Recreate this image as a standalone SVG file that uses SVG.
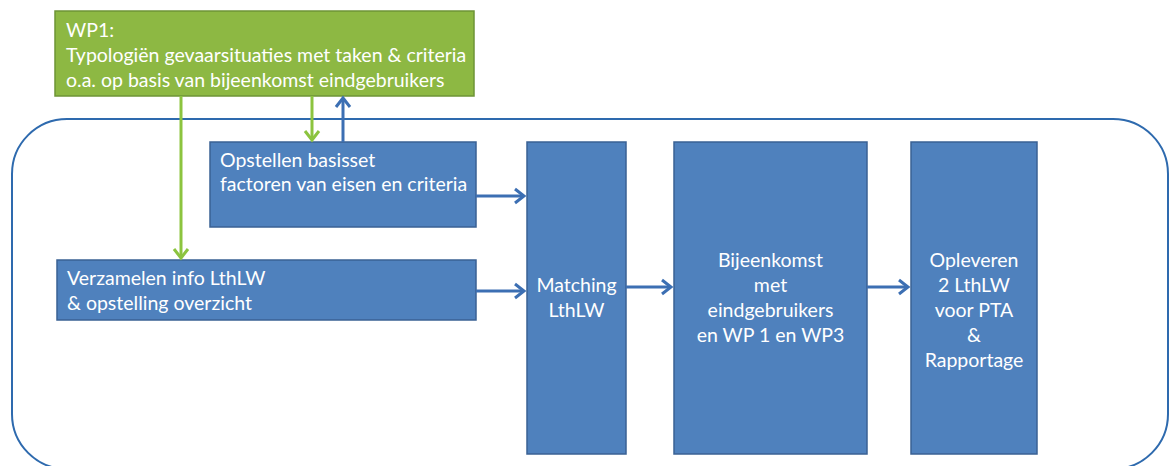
<svg xmlns="http://www.w3.org/2000/svg" width="1170" height="466" viewBox="0 0 1170 466">
<style>
  .box { fill: #4F81BD; stroke: #3A6194; stroke-width: 1.5; }
  .gbox { fill: #8DB843; stroke: #6E9436; stroke-width: 1.5; }
  text { font-family: Lato, "Open Sans", sans-serif; font-size: 19.5px; fill: #FFFFFF; }
  .c { text-anchor: middle; }
  .blue { stroke: #3C6FB3; stroke-width: 3; fill: none; }
  .green { stroke: #8CC43F; stroke-width: 3; fill: none; }
</style>
<defs>
  <marker id="ab" markerUnits="userSpaceOnUse" markerWidth="14" markerHeight="18" refX="11" refY="9" orient="auto">
    <path d="M2,2 L11,9 L2,16" fill="none" stroke="#3C6FB3" stroke-width="3"/>
  </marker>
  <marker id="ag" markerUnits="userSpaceOnUse" markerWidth="14" markerHeight="18" refX="11" refY="9" orient="auto">
    <path d="M2,2 L11,9 L2,16" fill="none" stroke="#8CC43F" stroke-width="3"/>
  </marker>
</defs>
<rect width="1170" height="466" fill="#FFFFFF"/>
<g id="container">
  <rect x="12" y="119" width="1156" height="350" rx="55" ry="55" fill="none" stroke="#2E6AAE" stroke-width="2"/>
</g>
<g id="wp1">
  <rect class="gbox" x="55" y="11" width="419" height="85"/>
  <text x="66" y="37">WP1:</text>
  <text x="66" y="62">Typologiën gevaarsituaties met taken &amp; criteria</text>
  <text x="66" y="87">o.a. op basis van bijeenkomst eindgebruikers</text>
</g>
<g id="opstellen">
  <rect class="box" x="210" y="142" width="266" height="85"/>
  <text x="220" y="167">Opstellen basisset</text>
  <text x="220" y="191">factoren van eisen en criteria</text>
</g>
<g id="verzamelen">
  <rect class="box" x="57" y="260" width="419" height="60"/>
  <text x="67" y="285">Verzamelen info LthLW</text>
  <text x="67" y="310">&amp; opstelling overzicht</text>
</g>
<g id="matching">
  <rect class="box" x="527" y="142" width="99" height="312"/>
  <text class="c" x="576.5" y="292">Matching</text>
  <text class="c" x="576.5" y="317">LthLW</text>
</g>
<g id="bijeenkomst">
  <rect class="box" x="674" y="142" width="193" height="312"/>
  <text class="c" x="770.5" y="267">Bijeenkomst</text>
  <text class="c" x="770.5" y="292">met</text>
  <text class="c" x="770.5" y="317">eindgebruikers</text>
  <text class="c" x="770.5" y="342">en WP 1 en WP3</text>
</g>
<g id="opleveren">
  <rect class="box" x="911" y="142" width="126" height="312"/>
  <text class="c" x="974" y="267">Opleveren</text>
  <text class="c" x="974" y="292">2 LthLW</text>
  <text class="c" x="974" y="317">voor PTA</text>
  <text class="c" x="974" y="342">&amp;</text>
  <text class="c" x="974" y="367">Rapportage</text>
</g>
<g id="connectors">
  <line class="green" x1="181" y1="96" x2="181" y2="258" marker-end="url(#ag)"/>
  <line class="green" x1="312" y1="96" x2="312" y2="140" marker-end="url(#ag)"/>
  <line class="blue" x1="343" y1="142" x2="343" y2="98" marker-end="url(#ab)"/>
  <line class="blue" x1="476" y1="196" x2="524" y2="196" marker-end="url(#ab)"/>
  <line class="blue" x1="476" y1="291" x2="524" y2="291" marker-end="url(#ab)"/>
  <line class="blue" x1="626" y1="287" x2="671" y2="287" marker-end="url(#ab)"/>
  <line class="blue" x1="867" y1="287" x2="908" y2="287" marker-end="url(#ab)"/>
</g>
</svg>
